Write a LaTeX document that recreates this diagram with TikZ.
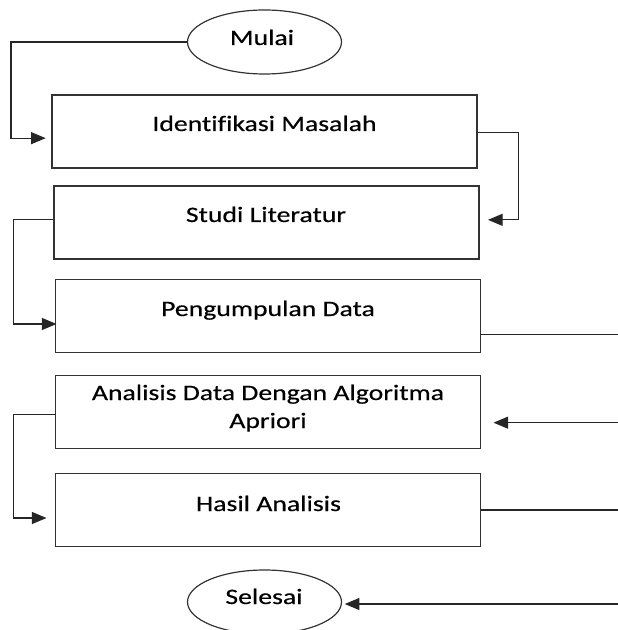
\documentclass[tikz,border=0pt]{standalone}
\usepackage{fontspec}
\setmainfont[FakeStretch=1.26,FakeBold=0.4,Ligatures=NoCommon]{Carlito}
\usetikzlibrary{arrows.meta,shapes.geometric}
\tikzset{
  box/.style={draw=black!80,line width=1.2pt,minimum width=319pt,minimum height=55pt,inner sep=0pt},
  terminal/.style={draw=black!80,line width=0.9pt,ellipse,minimum width=115.5pt,minimum height=48pt,inner sep=0pt},
  txt/.style={inner sep=0pt,anchor=base},
  flow/.style={line width=0.9pt,draw=black!85},
  arr/.style={flow,-{Triangle[length=11pt,width=9pt]}}
}
\begin{document}
\begin{tikzpicture}[x=0.75pt,y=-0.75pt,font=\fontsize{16.5}{21}\selectfont]
    \useasboundingbox (0,0) rectangle (617,630);

    \node[terminal] (mulai) at (264.5,42) {};
    \node[txt] (mulaiText) at (262,45) {Mulai};

    \node[box] (identifikasi) at (264.5,131.5) {};
    \node[txt] (identifikasiText) at (264.5,131) {Identifikasi Masalah};

    \node[box] (studi) at (266.5,222.5) {};
    \node[txt] (studiText) at (266,222) {Studi Literatur};

    \node[box] (pengumpulan) at (268,316) {};
    \node[txt] (pengumpulanText) at (268,316) {Pengumpulan Data};

    \node[box] (analisis) at (268,412) {};
    \node[txt] (analisisText) at (268,400) {Analisis Data Dengan Algoritma};
    \node[txt] (aprioriText) at (268,428) {Apriori};

    \node[box] (hasil) at (268,510) {};
    \node[txt] (hasilText) at (268.5,511) {Hasil Analisis};

    \node[terminal] (selesai) at (264.5,602) {};
    \node[txt] (selesaiText) at (264,604) {Selesai};

    \draw[arr] (mulai.west) -| ([xshift=-30pt,yshift=-5pt]identifikasi.west) -- ([xshift=-4pt,yshift=-5pt]identifikasi.west);
    \draw[arr] ([yshift=-1pt]identifikasi.east) -| ([xshift=29pt,yshift=2pt]studi.east) -- ([xshift=6pt,yshift=2pt]studi.east);
    \draw[arr] ([yshift=2pt]studi.west) -| ([xshift=-31pt,yshift=-6pt]pengumpulan.west) -- ([xshift=1.5pt,yshift=-6pt]pengumpulan.west);
    \draw[arr] ([yshift=-14pt]pengumpulan.east) -| ([xshift=130pt,yshift=-8pt]analisis.east) -- ([xshift=9pt,yshift=-8pt]analisis.east);
    \draw[arr] ([yshift=-2pt]analisis.west) -| ([xshift=-31pt,yshift=-6pt]hasil.west) -- ([xshift=-6pt,yshift=-6pt]hasil.west);
    \draw[arr] (hasil.east) -| ([xshift=230pt,yshift=-1.5pt]selesai.east) -- ([xshift=2pt,yshift=-1.5pt]selesai.east);
\end{tikzpicture}
\end{document}
